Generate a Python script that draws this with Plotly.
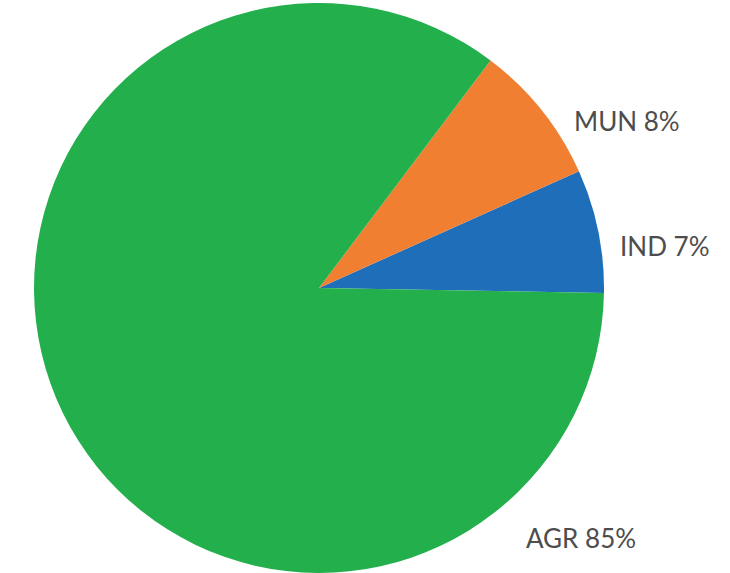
import plotly.graph_objects as go

# Water withdrawals by sector (percent)
sectors = ["IND", "MUN", "AGR"]
shares = [7, 8, 85]
colors = ["#1F6EBA", "#F17F31", "#22AF4C"]

# label placement (paper coords, left-anchored)
label_x = [0.846, 0.783, 0.718]
label_y = [0.571, 0.789, 0.061]

W, H = 730, 573
cx, cy, r = 319, 289, 286

# first slice starts just below 3 o'clock and runs counterclockwise;
# plotly's rotation marks the clockwise edge of the first slice
start_edge = 91
rotation = start_edge - 360 * shares[0] / sum(shares)

fig = go.Figure(
    go.Pie(
        labels=sectors,
        values=shares,
        sort=False,
        direction="counterclockwise",
        rotation=rotation,
        marker=dict(colors=colors, line=dict(width=0)),
        textinfo="none",
        hoverinfo="label+percent",
        showlegend=False,
        domain=dict(
            x=[(cx - r) / W, (cx + r) / W],
            y=[max(0, (H - cy - r) / H), min(1, (H - cy + r) / H)],
        ),
    )
)

for name, val, x, y in zip(sectors, shares, label_x, label_y):
    fig.add_annotation(
        text=f"{name} {val}%",
        x=x, y=y, xref="paper", yref="paper",
        xanchor="left", yanchor="middle",
        showarrow=False,
        font=dict(family="Lato", size=26, weight=400, color="#4d4d4d"),
    )

fig.update_layout(
    width=W, height=H,
    margin=dict(l=0, r=0, t=0, b=0),
    paper_bgcolor="white",
    plot_bgcolor="white",
)

fig.write_html("out.html")
